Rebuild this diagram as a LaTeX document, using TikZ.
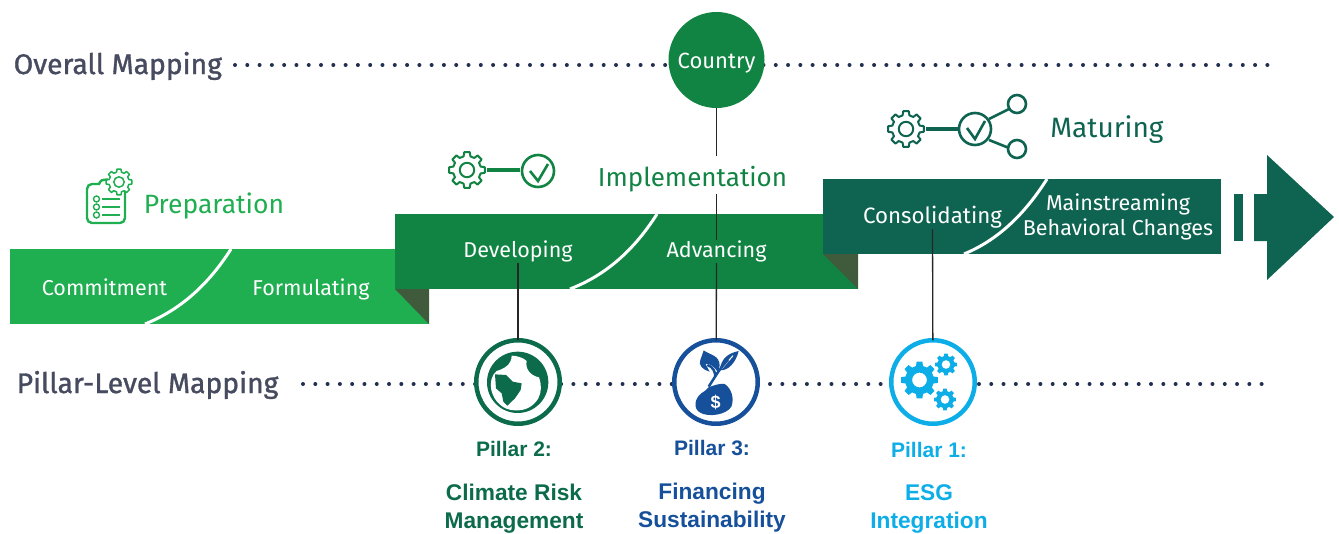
\documentclass[tikz,border=0pt]{standalone}
\usepackage{fontspec}
\setmainfont{Fira Sans}
\newfontfamily\rowfont[FakeBold=1.2]{Fira Sans}
\newfontfamily\pillarfont{Liberation Sans}
\definecolor{prepgreen}{HTML}{1FAE50}
\definecolor{implgreen}{HTML}{118443}
\definecolor{matugreen}{HTML}{0F6451}
\definecolor{foldgreen}{HTML}{3F5B3C}
\definecolor{labelgray}{HTML}{474B5F}
\definecolor{dotnavy}{HTML}{22304F}
\definecolor{climgreen}{HTML}{0B6B4A}
\definecolor{finblue}{HTML}{164F9A}
\definecolor{esgcyan}{HTML}{0DAEE8}
\tikzset{
    cog/.pic={
        \path[pic actions,even odd rule,line join=round] (-14:.78) \foreach \a in {0,45,...,315}{ -- (\a-14:.78) -- (\a-9:1) -- (\a+9:1) -- (\a+14:.78)} -- cycle
        (0,0) circle (.4);
    }
}
\begin{document}
\begin{tikzpicture}[x=1pt,y=-1pt,
    bandtext/.style={anchor=base,text=white,inner sep=1pt,text height=16pt,text depth=5pt,font=\fontsize{21.5}{26}\selectfont},
    phasetext/.style={anchor=base,inner sep=1pt,font=\fontsize{26.5}{32}\selectfont},
    maplabel/.style={anchor=base west,inner sep=1pt,text=labelgray,font=\rowfont\fontsize{28.3}{32}\selectfont},
    pillarring/.style={circle,draw=#1,fill=white,line width=4.5pt,minimum size=83.5pt,inner sep=0pt,outer sep=0pt},
    pillarhead/.style={anchor=base,inner sep=1pt,text=#1,font=\pillarfont\bfseries\fontsize{21}{25}\selectfont},
    pillarname/.style={anchor=base,inner sep=1pt,align=center,text=#1,font=\pillarfont\bfseries\fontsize{22.7}{28}\selectfont},
    dotrow/.style={dotnavy,line width=4pt,line cap=round,dash pattern=on 0pt off 12.29pt},
    swoosh/.style={white,line width=3pt},
    leader/.style={black!85,line width=1.3pt}
]
    \useasboundingbox (0,0) rectangle (1339,533);

    % the three steps
    \fill[prepgreen] (10,249) rectangle (429,324);
    \fill[foldgreen] (395,289) -- (429,289) -- (429,324) -- cycle;
    \draw[swoosh] (231,249) .. controls (205,290) and (175,312) .. (145,324);
    \fill[implgreen] (395,214) rectangle (858,289);
    \fill[foldgreen] (823,254) -- (858,254) -- (858,289) -- cycle;
    \draw[swoosh] (657,214) .. controls (631,255) and (601,277) .. (570,289);
    \fill[matugreen] (823,179) rectangle (1221,254);
    \draw[swoosh] (1047,179) .. controls (1021,220) and (993,242) .. (964,254);
    \fill[matugreen] (1234,194) rectangle (1243,241);
    \fill[matugreen] (1254,194) -- (1267,194) -- (1267,155) -- (1334,217) -- (1267,280) -- (1267,241) -- (1254,241) -- cycle;

    % labels in the steps
    \node[bandtext] (commitment) at (104.5,295) {Commitment};
    \node[bandtext] (formulating) at (311,295) {Formulating};
    \node[bandtext] (developing) at (518,257) {Developing};
    \node[bandtext] (advancing) at (716.5,257) {Advancing};
    \node[bandtext,font=\fontsize{22.3}{26}\selectfont] (consolidating) at (932.5,223) {Consolidating};
    \node[bandtext] (mainstreaming) at (1118,210) {Mainstreaming};
    \node[bandtext] (behavioral) at (1118,235) {Behavioral Changes};
    \node[phasetext,text=prepgreen] (preparation) at (214,213) {Preparation};
    \node[phasetext,text=implgreen,font=\fontsize{26}{32}\selectfont,text height=29pt,text depth=7pt] (implementation) at (692.5,186) {Implementation};
    \node[phasetext,text=matugreen,font=\fontsize{28}{32}\selectfont] (maturing) at (1107,137) {Maturing};

    % mapping rows
    \node[maplabel] (overall) at (12.5,74) {Overall Mapping};
    \node[maplabel] (pillarlevel) at (15.5,393) {Pillar-Level Mapping};
    \coordinate (overallstart) at (235,65);
    \coordinate (overallend) at (1268,65);
    \coordinate (pillarstart) at (303,384);
    \coordinate (pillarend) at (1268,384);
    \draw[dotrow] (overallstart) -- (overallend);
    \draw[dotrow] (pillarstart) -- (pillarend);

    \node[circle,fill=implgreen,minimum size=96pt,inner sep=0pt,text=white,text height=16pt,text depth=0pt,font=\fontsize{22}{26}\selectfont] (country) at (716.5,60) {Country};
    \node[pillarring=climgreen] (pillar2) at (518,382) {};
    \node[pillarring=finblue] (pillar3) at (716,382) {};
    \node[pillarring=esgcyan] (pillar1) at (933,382) {};

    % leaders
    \draw[leader] (country) -- (country |- implementation.north);
    \draw[leader] (country |- implementation.south) -- (country |- advancing.north);
    \draw[leader] (country |- advancing.south) -- (pillar3);
    \draw[leader] (developing.south) -- (pillar2);
    \draw[leader] (consolidating.south) -- (pillar1);

    % pillar texts
    \node[pillarhead=climgreen] (pillar2head) at (514,456) {Pillar 2:};
    \node[pillarname=climgreen] (pillar2name) at (514,528) {Climate Risk\\Management};
    \node[pillarhead=finblue] (pillar3head) at (712,455) {Pillar 3:};
    \node[pillarname=finblue] (pillar3name) at (712,527) {Financing\\Sustainability};
    \node[pillarhead=esgcyan] (pillar1head) at (929,457) {Pillar 1:};
    \node[pillarname=esgcyan] (pillar1name) at (929,528) {ESG\\Integration};

    % preparation icon
    \draw[prepgreen,line width=2.4pt,rounded corners=5pt] (100,184) -- (87,184) -- (87,223) -- (125,223) -- (125,190);
    \draw[prepgreen,line width=2.4pt] (99,184) .. controls (101,180) .. (108,179.5);
    \foreach \y in {199,207,215}{
        \draw[prepgreen,line width=1.4pt] (96.5,\y) circle (3);
        \draw[prepgreen,line width=2.8pt] (102,\y) -- (120,\y);
    }
    \pic[draw=prepgreen,fill=white,line width=1.5pt,scale=13] at (119,182) {cog};

    % implementation icon
    \pic[draw=implgreen,line width=2pt,scale=18] at (467,170) {cog};
    \draw[implgreen,line width=3.2pt] (487,170) -- (520,170);
    \draw[implgreen,line width=2.6pt] (538,171) circle (16);
    \draw[implgreen,line width=2.6pt] (530,171) -- (538,181) -- (548,164);

    % maturing icon
    \pic[draw=matugreen,line width=2pt,scale=18] at (906,129) {cog};
    \draw[matugreen,line width=3.2pt] (926,129) -- (960,129);
    \draw[matugreen,line width=2.6pt] (975,129) circle (16);
    \draw[matugreen,line width=2.6pt] (967,128) -- (975,139) -- (985,121);
    \draw[matugreen,line width=2.6pt] (989,119) -- (1009,109);
    \draw[matugreen,line width=2.6pt] (989,140) -- (1009,148);
    \draw[matugreen,line width=2.6pt] (1017,104) circle (9);
    \draw[matugreen,line width=2.6pt] (1017,149) circle (9);

    % globe
    \begin{scope}[shift={(470,335)},x=.3333pt,y=-.3333pt]
        \fill[climgreen] (143,142) circle (92);
        \fill[white] (125,62) .. controls (140,62) and (160,68) .. (170,78) .. controls (165,100) and (180,122) .. (207,127) .. controls (215,150) and (215,170) .. (205,190) .. controls (190,215) and (165,228) .. (135,226) .. controls (100,226) and (72,200) .. (64,165) .. controls (60,140) and (65,120) .. (80,108) .. controls (100,102) and (125,90) .. cycle;
        \fill[climgreen] (75,118) -- (108,120) -- (128,140) -- (155,145) -- (152,165) -- (135,190) -- (112,212) -- (100,200) -- (95,175) -- (78,160) -- cycle;
    \end{scope}

    % money bag
    \begin{scope}[shift={(668,335)},x=.3333pt,y=-.3333pt]
        \fill[finblue] (107,46) .. controls (125,60) and (155,60) .. (155,92) -- (150,112) .. controls (140,95) and (125,85) .. (112,86) -- (125,110) .. controls (105,105) and (90,90) .. (97,75) .. controls (100,65) and (105,55) .. cycle;
        \fill[finblue] (212,48) .. controls (180,55) and (160,70) .. (155,105) .. controls (180,110) and (205,80) .. cycle;
        \draw[white,line width=1pt] (195,62) -- (162,100);
        \draw[finblue,line width=2.5pt] (118,90) .. controls (135,95) and (142,110) .. (142,125) (180,75) .. controls (155,100) and (145,120) .. (122,155);
        \fill[finblue] (122,157) .. controls (140,150) and (155,145) .. (170,147) .. controls (190,160) and (200,190) .. (190,215) .. controls (175,240) and (120,248) .. (95,232) .. controls (75,220) and (80,190) .. (100,175) .. controls (110,168) and (115,165) .. cycle;
        \node[text=white,inner sep=0pt,font=\pillarfont\bfseries\fontsize{18}{20}\selectfont] (dollar) at (143,203) {\$};
    \end{scope}

    % gears of pillar 1
    \pic[fill=esgcyan,scale=18.5] at (919.5,380) {cog};
    \pic[fill=esgcyan,scale=11] at (946,364.5) {cog};
    \pic[fill=esgcyan,scale=11] at (945,399.5) {cog};
\end{tikzpicture}
\end{document}
